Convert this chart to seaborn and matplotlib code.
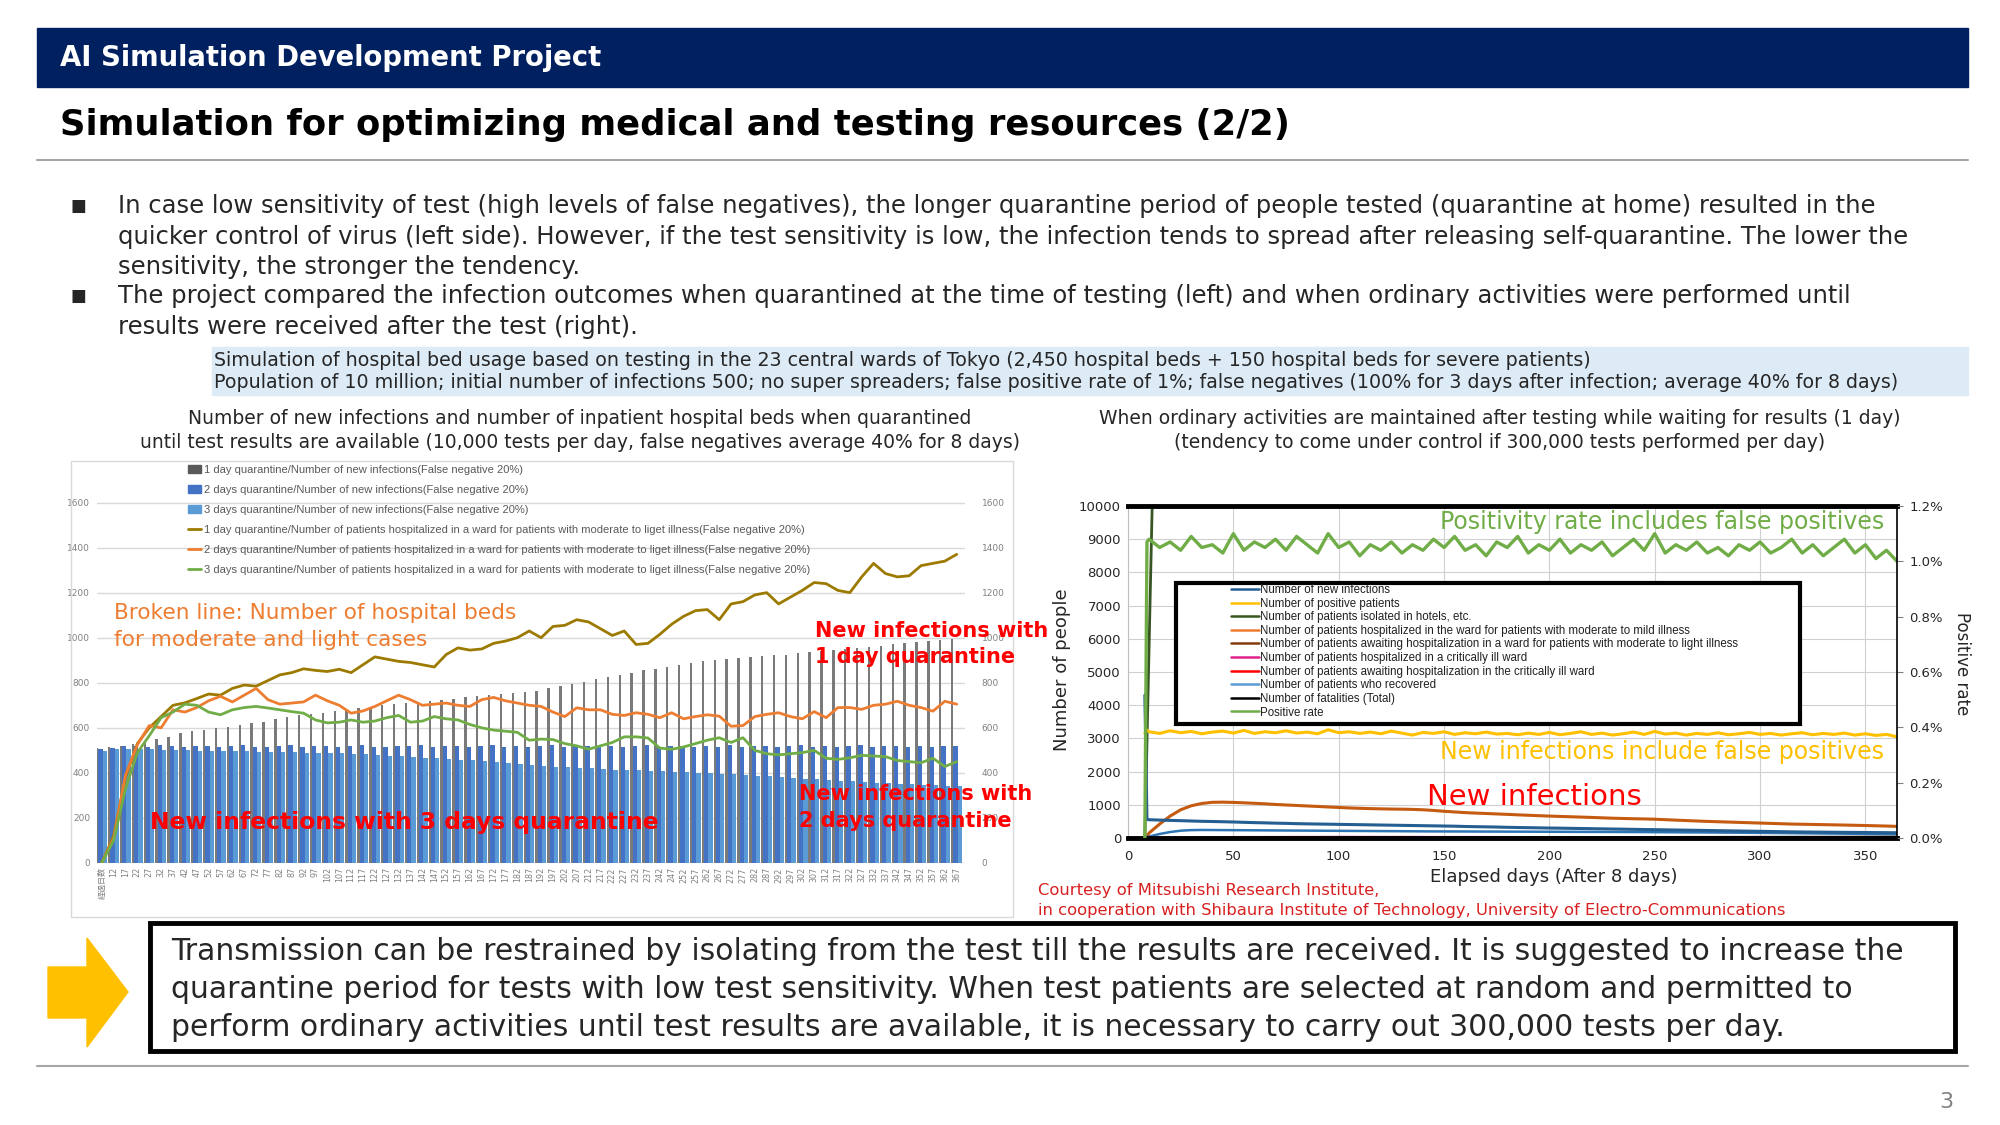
import numpy as np
import matplotlib
matplotlib.use("Agg")
import matplotlib.pyplot as plt
import seaborn as sns
from matplotlib.patches import Rectangle, Polygon, Patch
from matplotlib.lines import Line2D

sns.set_theme(style="white")
plt.rcParams['font.family'] = ['DejaVu Sans', 'Noto Sans CJK JP']

# ---------------- left chart data (every 5th day) ----------------
days_l = list(range(7, 368, 5))
xlabels_l = ['経過日数'] + [str(d) for d in days_l[1:]]

bars_1day = [510, 515, 520, 530, 540, 550, 560, 575, 585, 592,
             598, 605, 612, 620, 628, 638, 648, 655, 662, 668,
             675, 680, 688, 694, 700, 705, 710, 716, 720, 725,
             730, 735, 740, 745, 750, 755, 760, 765, 775, 785,
             795, 805, 815, 825, 835, 845, 855, 862, 870, 880,
             888, 896, 900, 905, 910, 915, 920, 922, 925, 930,
             935, 940, 945, 950, 955, 960, 965, 970, 975, 980,
             985, 990, 995]
bars_2day = [505, 512, 518, 520, 516, 522, 519, 515, 521, 518,
             514, 520, 523, 517, 515, 519, 522, 516, 518, 521,
             515, 519, 524, 517, 514, 520, 518, 522, 516, 519,
             521, 515, 518, 523, 517, 520, 516, 519, 522, 515,
             518, 521, 517, 520, 514, 519, 523, 516, 518, 521,
             515, 520, 517, 522, 516, 519, 521, 514, 518, 523,
             517, 520, 515, 519, 522, 516, 518, 521, 515, 520,
             517, 519, 518]
bars_3day = [498, 505, 508, 506, 504, 503, 502, 500, 499, 498,
             497, 496, 495, 494, 493, 492, 491, 490, 489, 488,
             487, 485, 482, 479, 476, 473, 470, 467, 464, 461,
             458, 455, 451, 447, 443, 439, 435, 431, 428, 425,
             422, 420, 418, 415, 413, 411, 409, 407, 405, 403,
             401, 399, 396, 393, 390, 387, 384, 381, 378, 375,
             372, 369, 366, 363, 360, 357, 354, 352, 350, 348,
             346, 344, 342]
beds_1day = [0, 120, 380, 530, 600, 650, 700, 711, 730, 750,
             745, 775, 790, 785, 810, 835, 845, 862, 855, 850,
             860, 845, 880, 915, 905, 895, 890, 880, 870, 925,
             955, 945, 950, 975, 985, 1000, 1030, 1000, 1050, 1055,
             1080, 1070, 1040, 1010, 1030, 970, 975, 1015, 1060, 1095,
             1120, 1125, 1080, 1150, 1160, 1190, 1200, 1150, 1180, 1210,
             1245, 1240, 1210, 1200, 1270, 1330, 1285, 1270, 1275, 1320,
             1330, 1340, 1370]
beds_2day = [0, 110, 390, 525, 610, 600, 680, 670, 690, 720,
             740, 715, 745, 775, 725, 705, 710, 715, 745, 720,
             700, 665, 675, 695, 720, 745, 725, 700, 705, 710,
             700, 695, 725, 735, 720, 710, 700, 695, 670, 650,
             689, 680, 680, 660, 655, 667, 660, 645, 667, 640,
             650, 658, 652, 607, 610, 650, 660, 667, 650, 640,
             672, 645, 690, 690, 682, 700, 705, 718, 700, 690,
             674, 718, 705]
beds_3day = [0, 100, 330, 490, 565, 645, 670, 705, 700, 670,
             658, 680, 690, 695, 688, 680, 672, 665, 635, 622,
             625, 635, 625, 630, 645, 655, 625, 630, 650, 640,
             635, 615, 600, 590, 585, 580, 545, 550, 548, 530,
             520, 505, 520, 535, 560, 560, 555, 510, 505, 515,
             530, 545, 556, 535, 556, 500, 485, 480, 485, 490,
             500, 465, 460, 467, 478, 475, 472, 455, 450, 445,
             465, 428, 450]

legend_l = [
    "1 day quarantine/Number of new infections(False negative 20%)",
    "2 days quarantine/Number of new infections(False negative 20%)",
    "3 days quarantine/Number of new infections(False negative 20%)",
    "1 day quarantine/Number of patients hospitalized in a ward for patients with moderate to liget illness(False negative 20%)",
    "2 days quarantine/Number of patients hospitalized in a ward for patients with moderate to liget illness(False negative 20%)",
    "3 days quarantine/Number of patients hospitalized in a ward for patients with moderate to liget illness(False negative 20%)",
]

# ---------------- right chart data ----------------
r_days = [8, 9] + list(range(10, 366, 5))
pos_rate = [0.0, 1.07,
            1.08, 1.05, 1.07, 1.04, 1.09, 1.05, 1.06, 1.03, 1.10, 1.04,
            1.07, 1.05, 1.08, 1.04, 1.09, 1.06, 1.03, 1.10, 1.05, 1.07,
            1.02, 1.06, 1.04, 1.07, 1.03, 1.06, 1.04, 1.08, 1.05, 1.09,
            1.04, 1.06, 1.02, 1.07, 1.05, 1.09, 1.03, 1.06, 1.04, 1.08,
            1.03, 1.06, 1.04, 1.07, 1.02, 1.05, 1.08, 1.04, 1.10, 1.03,
            1.06, 1.04, 1.07, 1.03, 1.05, 1.02, 1.06, 1.04, 1.07, 1.03,
            1.05, 1.08, 1.03, 1.06, 1.02, 1.05, 1.08, 1.03, 1.06, 1.01,
            1.04, 1.00]
positives = [3150, 3250,
             3200, 3150, 3230, 3170, 3210, 3140, 3190, 3220, 3160, 3240,
             3150, 3200, 3170, 3230, 3160, 3190, 3140, 3260, 3170, 3200,
             3150, 3190, 3140, 3220, 3160, 3100, 3180, 3150, 3200, 3120,
             3170, 3140, 3190, 3130, 3150, 3110, 3160, 3120, 3180, 3110,
             3150, 3200, 3120, 3160, 3100, 3140, 3190, 3120, 3210, 3130,
             3160, 3100, 3150, 3120, 3170, 3110, 3140, 3180, 3120, 3150,
             3100, 3140, 3170, 3110, 3150, 3120, 3160, 3100, 3140, 3090,
             3120, 3050]
new_inf = [4300, 560,
           550, 540, 530, 522, 512, 503, 497, 490, 482, 472,
           463, 456, 447, 441, 432, 426, 421, 416, 411, 406,
           401, 396, 391, 386, 381, 376, 371, 366, 361, 356,
           347, 341, 336, 330, 322, 316, 311, 306, 300, 296,
           291, 286, 281, 276, 271, 266, 261, 256, 251, 246,
           241, 236, 231, 226, 221, 216, 211, 206, 201, 196,
           191, 186, 182, 179, 176, 173, 170, 168, 166, 163,
           161, 158]
recovered = [0, 20,
             45, 120, 180, 220, 238, 242, 240, 238, 236, 234,
             232, 230, 228, 226, 224, 222, 220, 218, 216, 214,
             212, 210, 208, 206, 204, 202, 200, 199, 198, 197,
             196, 195, 194, 193, 192, 191, 190, 189, 188, 187,
             186, 185, 184, 183, 182, 181, 180, 178, 176, 174,
             172, 170, 168, 166, 164, 162, 160, 157, 154, 151,
             148, 145, 142, 139, 136, 133, 130, 127, 124, 121,
             118, 115]
moderate_ward = [0, 60,
                 150, 420, 660, 850, 970, 1040, 1075, 1080, 1072, 1060,
                 1045, 1030, 1010, 995, 980, 965, 950, 935, 920, 905,
                 895, 885, 878, 872, 868, 862, 850, 830, 805, 785,
                 765, 750, 738, 725, 712, 698, 685, 672, 660, 650,
                 640, 630, 620, 608, 596, 588, 580, 574, 566, 552,
                 538, 525, 512, 500, 490, 480, 470, 460, 450, 440,
                 430, 420, 414, 408, 402, 396, 390, 383, 376, 368,
                 360, 350]
hotel_days = [8, 12]
hotel = [0, 11500]
small_days = [8, 50, 100, 150, 200, 250, 300, 365]
awaiting_mod = [0, 0, 0, 0, 0, 0, 0, 0]
critical_ward = [0, 30, 35, 32, 28, 25, 22, 20]
awaiting_crit = [0, 0, 0, 0, 0, 0, 0, 0]
fatalities = [0, 5, 12, 18, 24, 29, 33, 38]

legend_r = [
    ("Number of new infections", "#255E91"),
    ("Number of positive patients", "#FFC000"),
    ("Number of patients isolated in hotels, etc.", "#375623"),
    ("Number of patients hospitalized in the ward for patients with moderate to mild illness", "#ED7D31"),
    ("Number of patients awaiting hospitalization in a ward for patients with moderate to light illness", "#843C0C"),
    ("Number of patients hospitalized in a critically ill ward", "#E0218A"),
    ("Number of patients awaiting hospitalization in the critically ill ward", "#FF0000"),
    ("Number of patients who recovered", "#5B9BD5"),
    ("Number of fatalities (Total)", "#000000"),
    ("Positive rate", "#70AD47"),
]

W, H = 2000, 1125
def fx(x):
    return x / W
def fy(y):
    return 1 - y / H

fig = plt.figure(figsize=(20, 11.25), dpi=100)
fig.patch.set_facecolor("white")

# ---------------- slide frame ----------------
fig.add_artist(Rectangle((fx(37), fy(87)), fx(1968) - fx(37), 59 / H,
                         transform=fig.transFigure, color="#002060", zorder=1))
fig.text(fx(60), fy(58), "AI Simulation Development Project", color="white",
         fontsize=19.8, fontweight="bold", va="center")
fig.text(fx(60), fy(125), "Simulation for optimizing medical and testing resources (2/2)",
         color="black", fontsize=25.5, fontweight="bold", va="center")
fig.add_artist(Line2D([fx(37), fx(1968)], [fy(160), fy(160)], color="#A6A6A6", lw=1.5,
                      transform=fig.transFigure))
fig.add_artist(Line2D([fx(37), fx(1968)], [fy(1066), fy(1066)], color="#A6A6A6", lw=1.5,
                      transform=fig.transFigure))
fig.text(fx(1946), fy(1102), "3", color="#808080", fontsize=16, va="center", ha="center")

body = [
    (206, True, "In case low sensitivity of test (high levels of false negatives), the longer quarantine period of people tested (quarantine at home) resulted in the"),
    (237, False, "quicker control of virus (left side). However, if the test sensitivity is low, the infection tends to spread after releasing self-quarantine. The lower the"),
    (267, False, "sensitivity, the stronger the tendency."),
    (296, True, "The project compared the infection outcomes when quarantined at the time of testing (left) and when ordinary activities were performed until"),
    (327, False, "results were received after the test (right)."),
]
for y, bullet, line in body:
    if bullet:
        fig.text(fx(70), fy(y), "■", fontsize=12, va="center")
    fig.text(fx(118), fy(y), line, fontsize=17.5, va="center")

fig.add_artist(Rectangle((fx(212), fy(395)), fx(1968) - fx(212), 48 / H,
                         transform=fig.transFigure, color="#DDEBF7", zorder=1))
fig.text(fx(214), fy(360), "Simulation of hospital bed usage based on testing in the 23 central wards of Tokyo (2,450 hospital beds + 150 hospital beds for severe patients)",
         fontsize=13.7, va="center")
fig.text(fx(214), fy(383), "Population of 10 million; initial number of infections 500; no super spreaders; false positive rate of 1%; false negatives (100% for 3 days after infection; average 40% for 8 days)",
         fontsize=13.7, va="center")

fig.text(fx(580), fy(419), "Number of new infections and number of inpatient hospital beds when quarantined",
         fontsize=13.5, ha="center", va="center")
fig.text(fx(580), fy(442), "until test results are available (10,000 tests per day, false negatives average 40% for 8 days)",
         fontsize=13.5, ha="center", va="center")
fig.text(fx(1500), fy(419), "When ordinary activities are maintained after testing while waiting for results (1 day)",
         fontsize=13.5, ha="center", va="center")
fig.text(fx(1500), fy(442), "(tendency to come under control if 300,000 tests performed per day)",
         fontsize=13.5, ha="center", va="center")

# ---------------- left chart ----------------
fig.add_artist(Rectangle((fx(71), fy(917)), fx(1013) - fx(71), (917 - 461) / H,
                         transform=fig.transFigure, facecolor="none", edgecolor="#D9D9D9", lw=1))
ax_l = fig.add_axes([fx(97), fy(863), (965 - 97) / W, (863 - 462) / H])
ax_l.set_facecolor("none")
d = np.array(days_l)
ax_l.bar(d - 1.9, bars_1day, width=1.0, color="#7A7A7A", linewidth=0)
ax_l.bar(d - 0.5, bars_2day, width=1.8, color="#4472C4", linewidth=0)
ax_l.bar(d + 1.3, bars_3day, width=1.8, color="#5B9BD5", linewidth=0)
sns.lineplot(x=days_l, y=beds_1day, ax=ax_l, color="#9C7A00", linewidth=2.0, legend=False)
sns.lineplot(x=days_l, y=beds_2day, ax=ax_l, color="#ED7D31", linewidth=2.0, legend=False)
sns.lineplot(x=days_l, y=beds_3day, ax=ax_l, color="#70AD47", linewidth=2.0, legend=False)
ax_l.set_xlim(5, 370.5)
ax_l.set_ylim(0, 1780)
ax_l.set_yticks(range(0, 1601, 200))
ax_l.set_yticklabels([str(v) for v in range(0, 1601, 200)], fontsize=6.5, color="#808080")
ax_l.set_xticks(days_l)
ax_l.set_xticklabels(xlabels_l, rotation=90, fontsize=5.8, color="#808080")
ax_l.tick_params(axis="both", length=0)
ax_l.tick_params(axis="y", pad=5)
ax_l.tick_params(axis="x", pad=3)
ax_l.yaxis.grid(True, color="#D9D9D9", lw=1)
ax_l.xaxis.grid(False)
ax_l.set_axisbelow(True)
for s in ax_l.spines.values():
    s.set_visible(False)
ax_l.axhline(0, color="#D9D9D9", lw=1, zorder=0)
ax_l2 = ax_l.twinx()
ax_l2.set_ylim(0, 1780)
ax_l2.set_yticks(range(0, 1601, 200))
ax_l2.set_yticklabels([str(v) for v in range(0, 1601, 200)], fontsize=6.5, color="#808080")
ax_l2.tick_params(axis="y", length=0, pad=12)
ax_l2.grid(False)
for s in ax_l2.spines.values():
    s.set_visible(False)

h_l = [Patch(color="#595959"), Patch(color="#4472C4"), Patch(color="#5B9BD5"),
       Line2D([0], [0], color="#9C7A00", lw=2), Line2D([0], [0], color="#ED7D31", lw=2),
       Line2D([0], [0], color="#70AD47", lw=2)]
leg_l = ax_l2.legend(h_l, legend_l, loc="upper left", bbox_to_anchor=(fx(188), fy(465)),
                     bbox_transform=fig.transFigure, frameon=False,
                     prop={"family": "Liberation Sans", "size": 8}, labelcolor="#595959",
                     handlelength=1.2, handleheight=0.75, handletextpad=0.25, labelspacing=0.9,
                     borderpad=0, borderaxespad=0)

fig.text(fx(114), fy(613), "Broken line: Number of hospital beds", color="#ED7D31", fontsize=15.6, va="center")
fig.text(fx(114), fy(640), "for moderate and light cases", color="#ED7D31", fontsize=15.6, va="center")
fig.text(fx(150), fy(822), "New infections with 3 days quarantine", color="#FF0000", fontsize=16.8,
         fontweight="bold", va="center")
fig.text(fx(815), fy(631), "New infections with", color="#FF0000", fontsize=15, fontweight="bold", va="center")
fig.text(fx(815), fy(657), "1 day quarantine", color="#FF0000", fontsize=15, fontweight="bold", va="center")
fig.text(fx(799), fy(794), "New infections with", color="#FF0000", fontsize=15, fontweight="bold", va="center")
fig.text(fx(799), fy(821), "2 days quarantine", color="#FF0000", fontsize=15, fontweight="bold", va="center")

# ---------------- right chart ----------------
ax_r = fig.add_axes([fx(1128), fy(838), (1897 - 1128) / W, (838 - 506) / H])
ax_r.set_facecolor("white")
sns.lineplot(x=hotel_days, y=hotel, ax=ax_r, color="#375623", linewidth=2, legend=False)
sns.lineplot(x=small_days, y=awaiting_mod, ax=ax_r, color="#843C0C", linewidth=1.5, legend=False)
sns.lineplot(x=small_days, y=critical_ward, ax=ax_r, color="#E0218A", linewidth=1.5, legend=False)
sns.lineplot(x=small_days, y=awaiting_crit, ax=ax_r, color="#FF0000", linewidth=1.5, legend=False)
sns.lineplot(x=r_days, y=moderate_ward, ax=ax_r, color="#C55A11", linewidth=2.2, legend=False)
sns.lineplot(x=r_days, y=recovered, ax=ax_r, color="#2E75B6", linewidth=1.8, legend=False)
sns.lineplot(x=r_days, y=new_inf, ax=ax_r, color="#255E91", linewidth=2.2, legend=False)
sns.lineplot(x=r_days, y=positives, ax=ax_r, color="#FFC000", linewidth=2.2, legend=False)
sns.lineplot(x=small_days, y=fatalities, ax=ax_r, color="#000000", linewidth=1.5, legend=False)
ax_r.set_xlim(0, 365)
ax_r.set_ylim(0, 10000)
ax_r.set_xticks(range(0, 351, 50))
ax_r.set_yticks(range(0, 10001, 1000))
ax_r.set_xticklabels([str(v) for v in range(0, 351, 50)], fontsize=9.5)
ax_r.set_yticklabels([str(v) for v in range(0, 10001, 1000)], fontsize=9.5)
ax_r.tick_params(axis="both", length=0)
ax_r.tick_params(axis="x", pad=9)
ax_r.tick_params(axis="y", pad=5)
ax_r.grid(True, color="#D0D0D0", lw=0.8)
ax_r.set_axisbelow(True)
ax_r.spines["top"].set_color("black")
ax_r.spines["top"].set_linewidth(3.5)
ax_r.spines["bottom"].set_color("black")
ax_r.spines["bottom"].set_linewidth(3.5)
ax_r.spines["left"].set_color("#BFBFBF")
ax_r.spines["left"].set_linewidth(0.8)
ax_r.spines["right"].set_visible(False)
ax_r.add_patch(Rectangle((23, 3425), 296, 4245, facecolor="white", edgecolor="black", lw=3, zorder=5))

ax_r2 = ax_r.twinx()
sns.lineplot(x=r_days, y=pos_rate, ax=ax_r2, color="#70AD47", linewidth=2.4, legend=False)
ax_r2.set_ylim(0, 1.2)
ax_r2.set_xlim(0, 365)
ax_r2.set_yticks([0, 0.2, 0.4, 0.6, 0.8, 1.0, 1.2])
ax_r2.set_yticklabels(["0.0%", "0.2%", "0.4%", "0.6%", "0.8%", "1.0%", "1.2%"], fontsize=9.5)
ax_r2.tick_params(axis="y", length=4, width=0.8, direction="out", color="#808080", pad=5)
ax_r2.grid(False)
for k in ["top", "bottom", "left"]:
    ax_r2.spines[k].set_visible(False)
ax_r2.spines["right"].set_color("black")
ax_r2.spines["right"].set_linewidth(1.2)
ax_r2.set_ylabel("")

h_r = [Line2D([0], [0], color=c, lw=1.8) for _, c in legend_r]
leg_r = ax_r.legend(h_r, [t for t, _ in legend_r], loc="upper left",
                    bbox_to_anchor=(fx(1231), fy(584)), bbox_transform=fig.transFigure,
                    frameon=False, prop={"family": "Liberation Sans", "size": 8.3},
                    labelcolor="#202020", handlelength=2.4, handletextpad=0.1,
                    labelspacing=0.14, borderpad=0, borderaxespad=0)
leg_r.set_zorder(6)

fig.text(fx(1062), fy(670), "Number of people", rotation=90, fontsize=13, ha="center", va="center")
fig.text(fx(1962), fy(664), "Positive rate", rotation=-90, fontsize=12, ha="center", va="center")
fig.text(fx(1554), fy(877), "Elapsed days (After 8 days)", fontsize=13, ha="center", va="center")
fig.text(fx(1884), fy(522), "Positivity rate includes false positives", color="#70AD47", fontsize=17,
         ha="right", va="center")
fig.text(fx(1884), fy(752), "New infections include false positives", color="#FFC000", fontsize=17,
         ha="right", va="center")
fig.text(fx(1427), fy(797), "New infections", color="#FF0000", fontsize=21, va="center")
fig.text(fx(1038), fy(891), "Courtesy of Mitsubishi Research Institute,", color="#D92020", fontsize=11.8,
         va="center")
fig.text(fx(1038), fy(911), "in cooperation with Shibaura Institute of Technology, University of Electro-Communications",
         color="#D92020", fontsize=11.8, va="center")

# ---------------- conclusion box ----------------
arrow = [(48, 967), (87, 967), (87, 938), (128, 992), (87, 1047), (87, 1018), (48, 1018)]
fig.add_artist(Polygon([(fx(x), fy(y)) for x, y in arrow], closed=True, transform=fig.transFigure,
                       color="#FFC000"))
fig.add_artist(Rectangle((fx(150), fy(1051)), fx(1955) - fx(150), 128 / H, transform=fig.transFigure,
                         facecolor="white", edgecolor="black", lw=3.5))
concl = [
    (952, "Transmission can be restrained by isolating from the test till the results are received. It is suggested to increase the"),
    (990, "quarantine period for tests with low test sensitivity. When test patients are selected at random and permitted to"),
    (1027, "perform ordinary activities until test results are available, it is necessary to carry out 300,000 tests per day."),
]
for y, line in concl:
    fig.text(fx(171), fy(y), line, fontsize=21.5, va="center")

fig.savefig("out.png", dpi=100)
